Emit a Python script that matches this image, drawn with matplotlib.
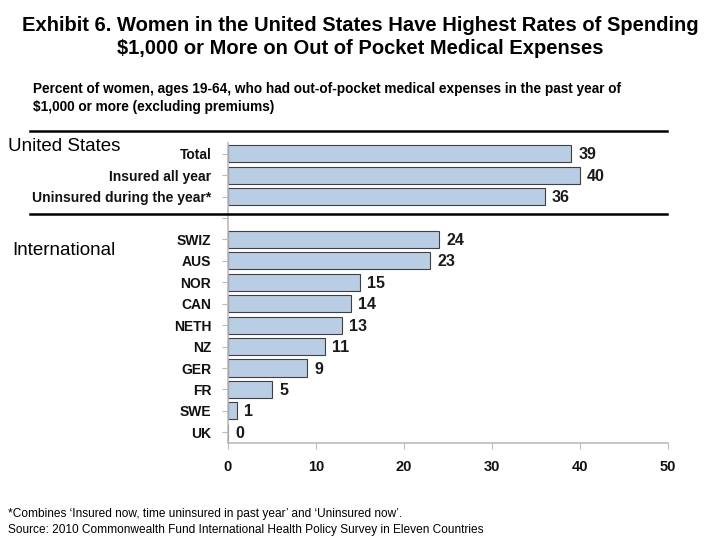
import matplotlib
matplotlib.use("Agg")
import matplotlib.pyplot as plt
from matplotlib.lines import Line2D

plt.rcParams['font.family'] = ['Liberation Sans', 'DejaVu Sans']

us_labels = ["Total", "Insured all year", "Uninsured during the year*"]
us_values = [39, 40, 36]
intl_labels = ["SWIZ", "AUS", "NOR", "CAN", "NETH", "NZ", "GER", "FR", "SWE", "UK"]
intl_values = [24, 23, 15, 14, 13, 11, 9, 5, 1, 0]
x_ticks = [0, 10, 20, 30, 40, 50]

labels = us_labels + [""] + intl_labels
values = us_values + [None] + intl_values

fig = plt.figure(figsize=(7.2, 5.4), dpi=100)
ax = fig.add_axes([228/720, (540-443)/540, 440/720, 300/540])

bar_color = "#b9cde5"
edge_color = "#404040"
for i, (lab, v) in enumerate(zip(labels, values)):
    if v is None:
        continue
    ax.barh(i, v, height=0.8, color=bar_color, edgecolor=edge_color, linewidth=0.8)
    ax.text(v + 0.8, i + 0.05, f"{v}", va="center", ha="left",
            fontsize=11.5, fontweight="bold", color="#1a1a1a")

ax.set_ylim(len(labels) - 0.5, -0.5)
ax.set_xlim(0, 50)
ax.set_yticks(range(len(labels)))
ax.set_yticklabels(labels, fontsize=10, fontweight="bold", color="#222222")
ax.set_xticks(x_ticks)
ax.set_xticklabels([str(t) for t in x_ticks], fontsize=10.5, fontweight="bold")
for s in ["top", "right"]:
    ax.spines[s].set_visible(False)
for s in ["left", "bottom"]:
    ax.spines[s].set_color("#bbbbbb")
    ax.spines[s].set_linewidth(1.2)
ax.tick_params(axis="both", colors="#bbbbbb", length=4, labelcolor="#111111")
ax.tick_params(axis="x", pad=8)
ax.tick_params(axis="y", pad=8)

fig.text(0.5, 1 - 37/540, "Exhibit 6. Women in the United States Have Highest Rates of Spending\n$1,000 or More on Out of Pocket Medical Expenses",
         ha="center", va="center", fontsize=14.5, fontweight="bold", linespacing=1.3)
fig.text(33/720, 1 - 98/540, "Percent of women, ages 19-64, who had out-of-pocket medical expenses in the past year of\n$1,000 or more (excluding premiums)",
         ha="left", va="center", fontsize=9.8, fontweight="bold", linespacing=1.3)

fig.text(8/720, 1 - 147/540, "United States", ha="left", va="center", fontsize=13.5)
fig.text(12/720, 1 - 250/540, "International", ha="left", va="center", fontsize=13.5)

for y in [131, 214]:
    fig.add_artist(Line2D([30/720, 667/720], [1 - y/540, 1 - y/540], color="black", linewidth=1.8))

fig.text(8/720, 1 - 514/540, "*Combines \u2018Insured now, time uninsured in past year\u2019 and \u2018Uninsured now\u2019.",
         ha="left", va="center", fontsize=8.6)
fig.text(8/720, 1 - 530/540, "Source: 2010 Commonwealth Fund International Health Policy Survey in Eleven Countries",
         ha="left", va="center", fontsize=8.6)

fig.savefig("out.png", dpi=100)
